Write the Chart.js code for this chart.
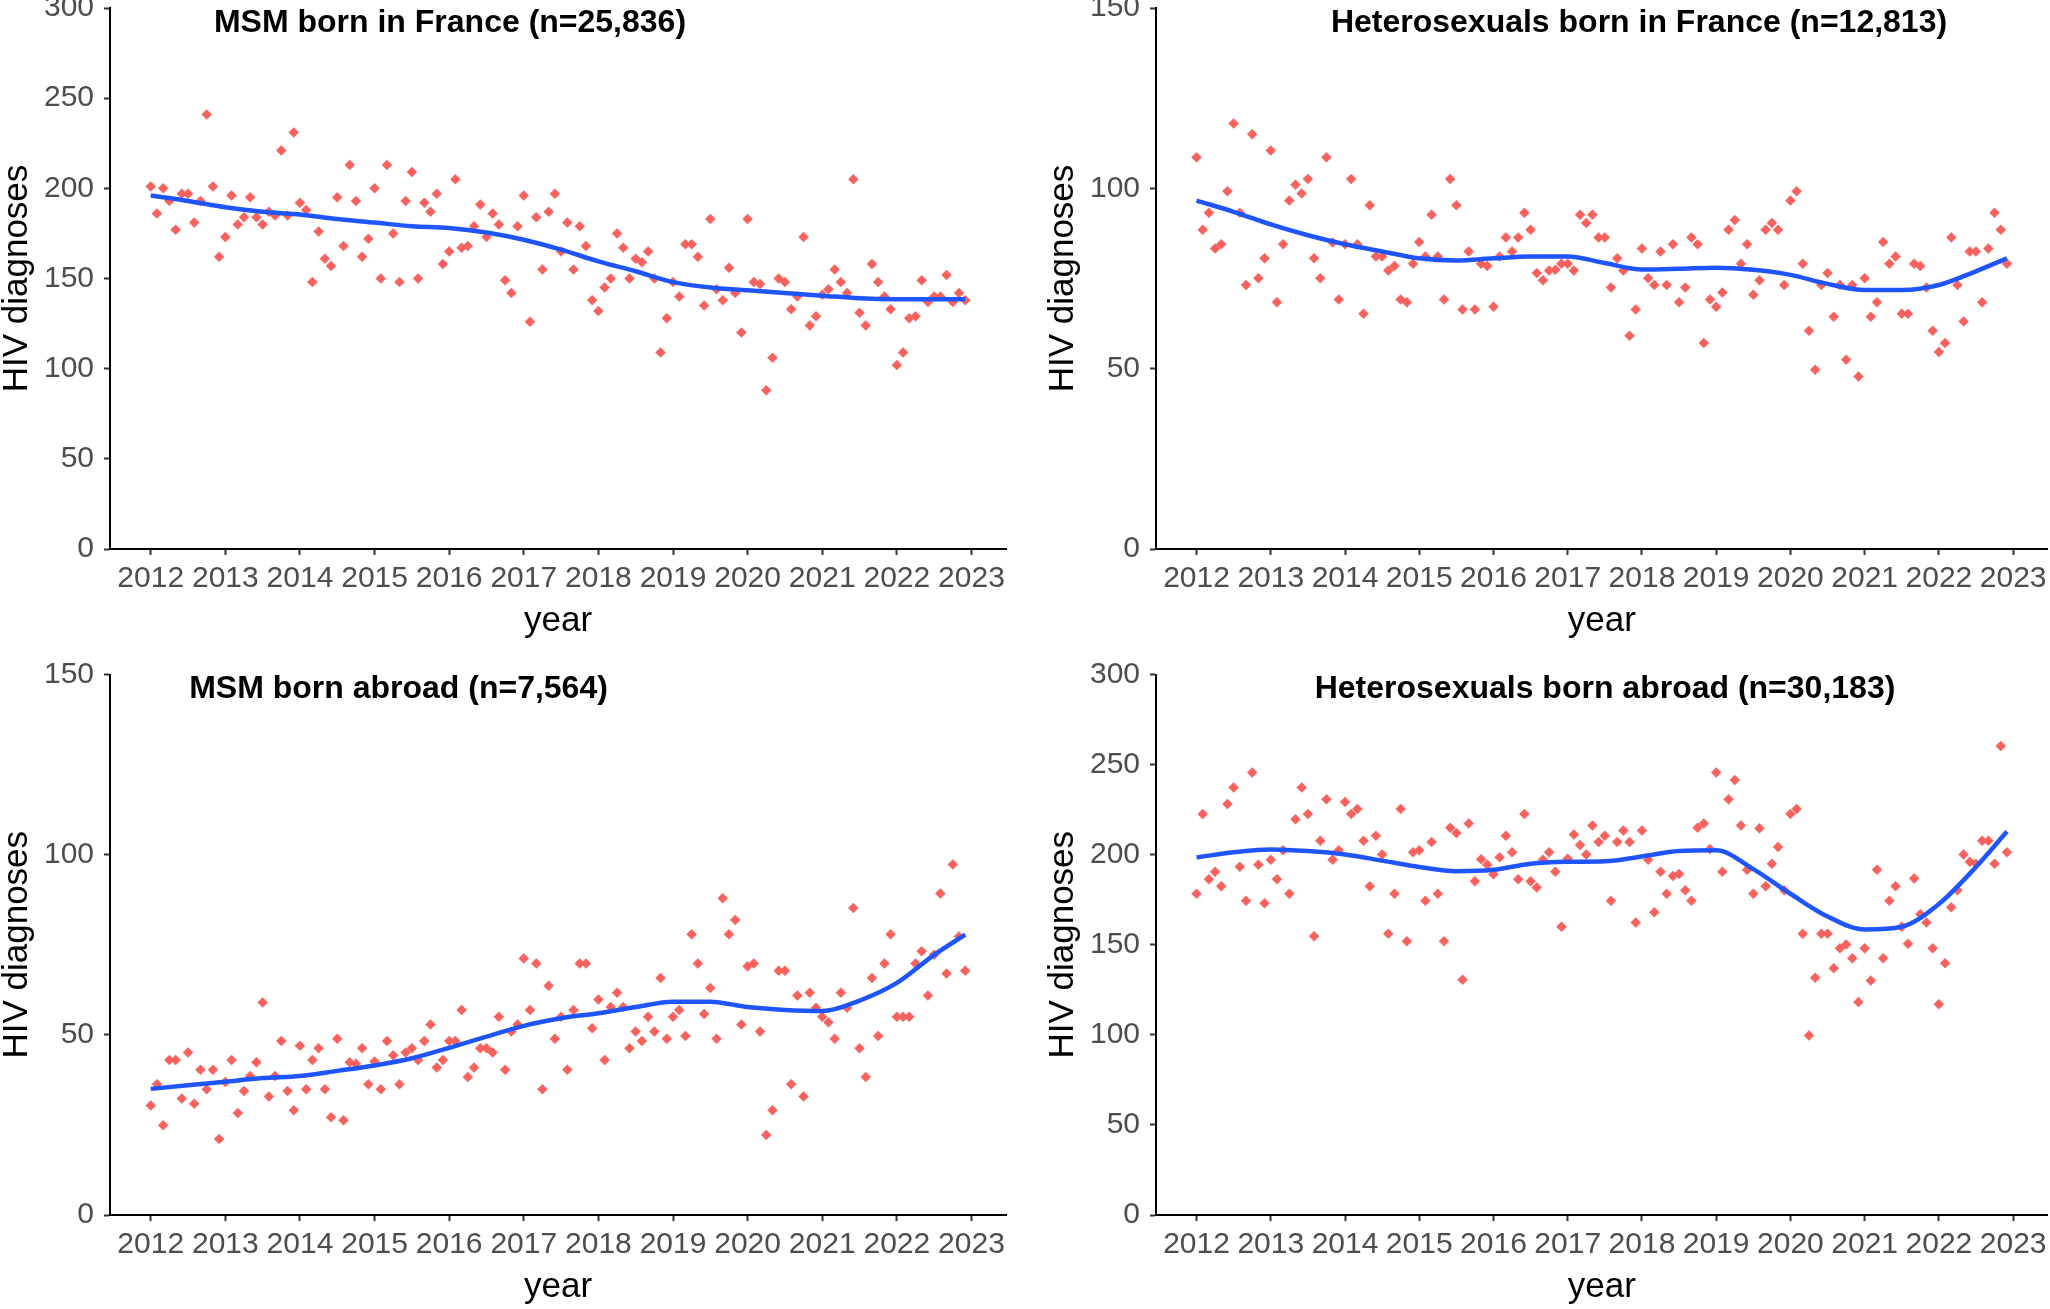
<!DOCTYPE html>
<html>
<head>
<meta charset="utf-8">
<script src="https://cdn.jsdelivr.net/npm/chart.js@4.4.1/dist/chart.umd.min.js"></script>
<style>
html,body{margin:0;padding:0;background:#fff;}
body{width:2050px;height:1309px;overflow:hidden;position:relative;}
canvas{position:absolute;}
</style>
</head>
<body>
<canvas id="c1" width="1025" height="655" style="left:0px;top:0px"></canvas>
<canvas id="c2" width="1007" height="655" style="left:1046px;top:0px"></canvas>
<canvas id="c3" width="1025" height="681" style="left:0px;top:640px"></canvas>
<canvas id="c4" width="1007" height="681" style="left:1046px;top:640px"></canvas>
<script>
// ---- categories ----
const years = [2012,2013,2014,2015,2016,2017,2018,2019,2020,2021,2022];
const tickYears = [2012,2013,2014,2015,2016,2017,2018,2019,2020,2021,2022,2023];
const smoothX = [2012,2012.5,2013,2013.5,2014,2014.5,2015,2015.5,2016,2016.5,2017,2017.5,2018,2018.5,2019,2019.5,2020,2020.5,2021,2021.5,2022,2022.5,2022.917];

// ---- monthly HIV diagnoses (Jan 2012 .. Dec 2022) ----
const msmFrance = [
 201,186,200,193,177,197,197,181,193,241,201,162,
 173,196,180,184,195,184,180,187,185,221,185,231,
 192,188,148,176,161,157,195,168,213,193,162,172,
 200,150,213,175,148,193,209,150,192,187,197,158,
 165,205,167,168,179,191,173,186,180,149,142,179,
 196,126,184,155,187,197,165,181,155,179,168,138,
 132,145,150,175,167,150,161,159,165,150,109,128,
 148,140,169,169,162,135,183,144,138,156,142,120,
 183,148,147,88,106,150,148,133,140,173,124,129,
 141,144,155,148,142,205,131,124,158,148,140,133,
 102,109,128,129,149,137,140,140,152,137,142,138
];
const hetFrance = [
 108.6,88.5,93.2,83.3,84.5,99.2,118,93.2,73.2,115,75.1,80.6,
 110.5,68.4,84.5,96.6,101,98.6,102.6,80.6,75.1,108.6,85,69.2,
 84.5,102.6,84.5,65.2,95.3,81.1,81.1,77.2,78.5,69.2,68.4,79.1,
 85.1,81.1,92.7,81.1,69.2,102.6,95.3,66.4,82.5,66.4,79.1,78.5,
 67.2,81.1,86.4,82.5,86.4,93.2,88.5,76.5,74.5,77.2,77.4,79.1,
 79.1,77.2,92.7,90.4,92.7,86.4,86.4,72.5,80.6,77.2,59.1,66.4,
 83.3,75.1,73.2,82.5,73.2,84.5,68.4,72.5,86.4,84.5,57.1,69.2,
 67.2,71.1,88.5,91.2,79.1,84.5,70.5,74.5,88.5,90.4,88.5,73.2,
 96.6,99.2,79.1,60.5,49.7,73.2,76.5,64.4,73.2,52.5,73.2,47.8,
 75.1,64.4,68.4,85.1,79.1,81.1,65.2,65.2,79.1,78.5,72.5,60.5,
 54.6,57.1,86.4,73.2,63.1,82.5,82.5,68.4,83.3,93.2,88.5,79.1
];
const msmAbroad = [
 30.4,36.3,24.9,43,43,32.3,45.1,30.9,40.3,34.9,40.3,21.1,
 36.9,43,28.3,34.4,38.6,42.4,59,32.9,38.6,48.3,34.4,29.1,
 47,34.9,43,46.3,34.9,27.1,48.9,26.3,42.4,42,46.3,36.3,
 42.6,34.9,48.3,44.3,36.3,45.1,46.3,43,48.3,52.9,40.9,43,
 48.3,48.3,56.9,38.3,40.9,46.3,46.3,45.1,55,40.3,50.9,52.9,
 71.2,56.9,69.8,34.9,63.6,48.9,55,40.3,56.9,69.8,69.8,51.8,
 59.8,43,57.7,61.7,57.7,46.3,50.9,48.3,55,50.9,65.8,48.9,
 55,56.9,49.7,77.9,69.8,55.8,63,48.9,87.9,77.9,81.9,52.9,
 69,69.8,50.9,22.2,29.1,67.8,67.8,36.3,60.9,32.9,61.7,57.5,
 55,53.5,48.9,61.7,57.5,85.2,46.3,38.3,65.8,49.7,69.8,77.9,
 55,55,55,69.8,73.2,60.9,72.2,89.2,67,97.3,77.3,67.8
];
const hetAbroad = [
 178.3,222.6,186.4,190.5,182.5,228.1,237.3,193.3,174.4,245.6,194.4,173.1,
 197.2,186.4,202.4,178.3,219.6,237.3,222.6,154.7,207.7,230.7,197.2,202.4,
 229.3,222.6,225.4,207.7,182.5,210.5,200.1,156.1,178.3,225.4,151.9,201.3,
 202.4,174.4,207,178.3,151.9,215,212,130.6,217.3,185.2,197.4,194.4,
 189.1,198.5,210.5,201.3,186.4,222.6,185.2,181.8,197.2,201.3,190.5,160,
 197.8,211.2,205.4,200.1,216.2,207,210.5,174.4,207,213.4,207,162.3,
 213.4,197.2,168,190.5,178.3,188.2,189.3,180.2,174.4,215,217.3,203.1,
 245.6,190.5,230.7,241.4,216.2,191.6,178.3,214.6,182.5,194.9,204.3,180.2,
 222.6,225.4,156.1,99.6,131.7,156.1,156.1,137,148,150.1,142.5,118.2,
 148,130.1,191.6,142.5,174.4,182.5,160,150.6,186.8,166.9,162.3,148,
 117,139.8,170.8,180.2,200.1,196,194.9,207.7,207.7,194.9,260.3,201.3
];

// ---- smoothed trend ----
const msmFranceSmooth = [196,193,189.5,187,185.5,183,181,179,178,175.5,171.5,166,159.5,154,148,145,143.5,142,140.5,139,138.5,138.5,138.5];
const hetFranceSmooth = [96.6,93.5,90,87,84.5,82.5,80.6,80,80.6,81.1,81.1,79.3,77.5,77.7,78,77.4,76,73.5,71.8,71.8,73.2,77,80.6];
const msmAbroadSmooth = [35,36,37,38,38.6,40,41.5,43.5,46.4,49.5,52.5,54.6,56,57.7,59.2,59.2,57.7,56.9,56.6,59.5,64.4,72.2,77.8];
const hetAbroadSmooth = [198.5,201.3,202.9,202,200.1,196.7,193.2,190.8,191.6,195,196,196.3,199,202,202.4,192,178.3,165.7,158.5,160,172.6,193.2,212.8];

// ---- titles ----
const titles = ['MSM born in France (n=25,836)','Heterosexuals born in France (n=12,813)','MSM born abroad (n=7,564)','Heterosexuals born abroad (n=30,183)'];
const yMaxes = [300,150,150,300];

const FONT = "'Liberation Sans', Arial, Helvetica, sans-serif";

const panelTitle = {
  id:'panelTitle',
  afterDraw(chart, args, opts){
    const {ctx, chartArea} = chart;
    ctx.save();
    ctx.font = 'bold 32px ' + FONT;
    ctx.fillStyle = '#000';
    ctx.textAlign = 'center';
    ctx.textBaseline = 'alphabetic';
    ctx.fillText(opts.text, chartArea.left + opts.center, chartArea.top + 23.5);
    ctx.restore();
  }
};

function monthly(values){
  const out = [];
  years.forEach((yr, yi) => {
    for (let m = 0; m < 12; m++) out.push({x: yr + m/12, y: values[yi*12 + m]});
  });
  return out;
}

function makePanel(id, values, smooth, yMax, title, center, padTop, padRight){
  new Chart(document.getElementById(id), {
    type:'scatter',
    data:{
      datasets:[
        {data: smoothX.map((x,i)=>({x:x, y:smooth[i]})), showLine:true, borderColor:'#1F55FF', borderWidth:4.5,
         pointRadius:0, cubicInterpolationMode:'monotone', fill:false, order:0},
        {data: monthly(values), pointStyle:'rectRot', pointRadius:5, backgroundColor:'#F8625E',
         borderColor:'#F8625E', borderWidth:0.5, order:1}
      ]
    },
    options:{
      responsive:false, animation:false, devicePixelRatio:1,
      layout:{padding:{top:padTop, right:padRight, left:0, bottom:0}},
      plugins:{legend:{display:false}, tooltip:{enabled:false}, title:{display:false},
               panelTitle:{text:title, center:center}},
      scales:{
        x:{type:'linear', min:2011.454, max:2023.463,
           afterBuildTicks: s => { s.ticks = tickYears.map(v => ({value:v})); },
           afterFit: s => { s.height = 106; s.paddingLeft = 0; s.paddingRight = 0; },
           border:{display:true, color:'#000', width:2},
           grid:{display:true, drawOnChartArea:false, drawTicks:true, tickLength:6, tickWidth:2, tickColor:'#333'},
           ticks:{autoSkip:false, maxRotation:0, minRotation:0, padding:6, color:'#4D4D4D',
                  font:{family:FONT, size:30}, callback: v => String(v)},
           title:{display:true, text:'year', color:'#000', font:{family:FONT, size:35, lineHeight:1}, padding:{top:0, bottom:16.5}}
        },
        y:{type:'linear', min:0, max:yMax,
           afterFit: s => { s.width = 110; s.paddingTop = 0; s.paddingBottom = 0; },
           border:{display:true, color:'#000', width:2},
           grid:{display:true, drawOnChartArea:false, drawTicks:true, tickLength:6, tickWidth:2, tickColor:'#333'},
           ticks:{stepSize:50, padding:10, color:'#4D4D4D', font:{family:FONT, size:30}},
           title:{display:true, text:'HIV diagnoses', color:'#000', font:{family:FONT, size:35, lineHeight:1}, padding:{top:0, bottom:0}}
        }
      }
    },
    plugins:[panelTitle]
  });
}

makePanel('c1', msmFrance, msmFranceSmooth, yMaxes[0], titles[0], 340, 8, 19);
makePanel('c2', hetFrance, hetFranceSmooth, yMaxes[1], titles[1], 483, 8, 0);
makePanel('c3', msmAbroad, msmAbroadSmooth, yMaxes[2], titles[2], 288.5, 34.5, 19);
makePanel('c4', hetAbroad, hetAbroadSmooth, yMaxes[3], titles[3], 449, 34.5, 0);
</script>
</body>
</html>
